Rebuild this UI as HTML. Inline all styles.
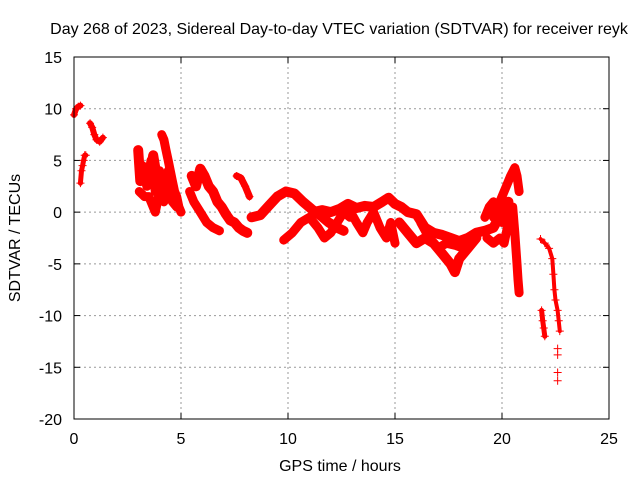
<!DOCTYPE html>
<html><head><meta charset="utf-8"><style>
body{margin:0;background:#fff}
svg{font-family:"Liberation Sans",sans-serif;font-size:16px}
</style></head><body>
<svg id="c" width="640" height="480">
<text x="339" y="34" text-anchor="middle">Day 268 of 2023, Sidereal Day-to-day VTEC variation (SDTVAR) for receiver reyk</text>
<text x="340" y="471" text-anchor="middle">GPS time / hours</text>
<text transform="translate(20,238) rotate(-90)" text-anchor="middle">SDTVAR / TECUs</text>
<g id="grid"></g><g id="marks"></g>
<rect x="74" y="57" width="535" height="362" fill="none" stroke="#000"/>
</svg>
<script>
const xTicks=[0,5,10,15,20,25];
const yTicks=[15,10,5,0,-5,-10,-15,-20];
const trackHours=[
[0,0.1,0.2,0.3],
[0.3,0.35,0.4,0.45,0.5,0.55],
[0.75,0.85,0.95,1.05,1.2,1.35],
[3.0,3.1,3.3,3.5,3.7,3.9,4.1,4.3,4.5],
[3.05,3.3,3.5,3.8,4.0,4.2,4.4,4.6,4.8],
[4.1,4.2,4.3,4.4,4.5,4.6,4.7,4.8,4.9,5.0],
[5.5,5.7,5.9,6.1,6.3,6.5,6.7,6.9,7.1,7.3,7.5,7.7,7.9,8.1],
[5.4,5.6,5.9,6.2,6.5,6.8],
[7.6,7.8,8.0,8.2],
[8.3,8.7,9.1,9.5,9.9,10.3,10.7,11.1,11.5,11.9,12.3,12.6],
[9.8,10.2,10.6,11.0,11.4,11.7,12.0,12.3,12.6,12.9],
[11.2,11.6,12.0,12.4,12.8,13.2,13.6,14.0,14.4,14.7,15.0,15.3,15.6,16.0,16.4,16.8,17.2,17.6,18.0,18.4,18.8,19.2,19.6,20.0,20.3],
[12.8,13.2,13.5,13.7,14.0,14.3,14.6,14.8,15.0],
[15.2,15.6,16.0,16.4,16.8,17.2,17.6,17.8,18.0,18.4,18.8],
[16.2,16.6,17.0,17.4,17.8,18.2],
[19.6,19.8,20.0,20.2,20.4,20.6,20.7,20.8],
[19.3,19.6,19.9,20.1,20.3,20.5,20.6,20.7,20.75,20.8],
[19.2,19.4,19.6,19.8,20.0,20.3],
[3.2,3.4,3.6,3.8,4.0,4.2,4.4,4.6],
[21.8,22.0,22.2,22.35,22.4,22.45,22.5,22.6,22.65,22.7],
[21.85,21.9,21.95,22.0],
[22.6,22.6,22.6,22.6]
];
const trackValues=[
[9.4,10,10.2,10.3],
[2.8,4,4.5,5,5.5,5.5],
[8.6,8.2,7.5,7,6.8,7.2],
[6,3,4,3,5.5,3,3.5,2.5,2.5],
[2,1.5,1.5,0,2,1,2,1,0.5],
[7.5,7,6,5,4,3,2,1.5,0.5,0],
[3.5,2.5,4.2,3.5,2.5,2,1,0.5,-0.2,-0.8,-1,-1.5,-1.8,-2],
[2,1,0,-1,-1.5,-1.8],
[3.5,3.3,2.5,1.5],
[-0.5,-0.3,0.6,1.5,2,1.8,1,0.3,-0.3,-1,-1.5,-1.8],
[-2.7,-2,-1,-0.5,-1.5,-2.5,-2,-1,0,-0.5],
[0,0.2,0,0.3,0.8,0.4,0.6,0.5,1,1.4,0.8,0.5,0,-0.2,-1.5,-2,-2.2,-2.5,-2.8,-2.5,-2,-1.8,-1.5,0,1],
[0.5,-1,-2,-1,0,-1.5,-2.5,-1,-3],
[-1,-2,-3,-2.5,-3,-4,-5,-5.8,-4.5,-3.5,-2.5],
[-1,-2.5,-3.5,-3,-3.2,-3.5],
[-0.5,0.5,1.5,2.5,3.5,4.3,3.5,2],
[-2.5,-3,-2.5,-3,-1,0.5,-2,-5,-6.5,-7.8],
[-0.5,0.5,1,0,-1,-0.5],
[4.5,2.5,5,2,4,2.5,4,2],
[-2.6,-3,-3.5,-4.5,-6,-7.5,-8.5,-9.5,-10.5,-11.5],
[-9.5,-10.5,-11.2,-12],
[-13.2,-13.8,-15.5,-16.3]
];
const trackWidths=[6,5,6,10,9,9,10,9,7,10,9,10,9,10,9,9,9,9,9,4,5,0];
const NS='http://www.w3.org/2000/svg';
const X=h=>74+h*(535/25);
const Y=v=>57+(15-v)*(362/35);
const grid=document.getElementById('grid'),marks=document.getElementById('marks');
function mk(tag,attrs,parent){const e=document.createElementNS(NS,tag);for(const k in attrs)e.setAttribute(k,attrs[k]);parent.appendChild(e);return e;}
xTicks.forEach(t=>{
 const x=X(t);
 if(t>0&&t<25){const g=mk('line',{x1:x,x2:x,y1:57,y2:419,stroke:'#999','stroke-dasharray':'2,3'},grid);
 
 }
 mk('line',{x1:x,x2:x,y1:419,y2:413,stroke:'#000'},grid);
 mk('line',{x1:x,x2:x,y1:57,y2:63,stroke:'#000'},grid);
 const l=mk('text',{x:x,y:444,'text-anchor':'middle'},grid);l.textContent=t;
 
 
});
yTicks.forEach(t=>{
 const y=Y(t);
 if(t<15&&t>-20){const g=mk('line',{x1:74,x2:609,y1:y,y2:y,stroke:'#999','stroke-dasharray':'2,3'},grid);
 
 }
 mk('line',{x1:74,x2:80,y1:y,y2:y,stroke:'#000'},grid);
 mk('line',{x1:603,x2:609,y1:y,y2:y,stroke:'#000'},grid);
 const l=mk('text',{x:62,y:y+6,'text-anchor':'end'},grid);l.textContent=t;
 
 
});
trackHours.forEach((hs,i)=>{
 const vs=trackValues[i];
 const pts=hs.map((h,j)=>X(h).toFixed(1)+','+Y(vs[j]).toFixed(1)).join(' ');
 if(trackWidths[i]>0){const p=mk('polyline',{points:pts,fill:'none',stroke:'#f00','stroke-width':trackWidths[i],'stroke-linejoin':'round','stroke-linecap':'round'},marks);
 
 }
 hs.forEach((h,j)=>{
  const x=X(h),y=Y(vs[j]);
  const m=mk('path',{d:`M${x-4} ${y}H${x+4}M${x} ${y-4}V${y+4}`,stroke:'#f00','stroke-width':1},marks);
  
  
 });
});
</script>
</body></html>
